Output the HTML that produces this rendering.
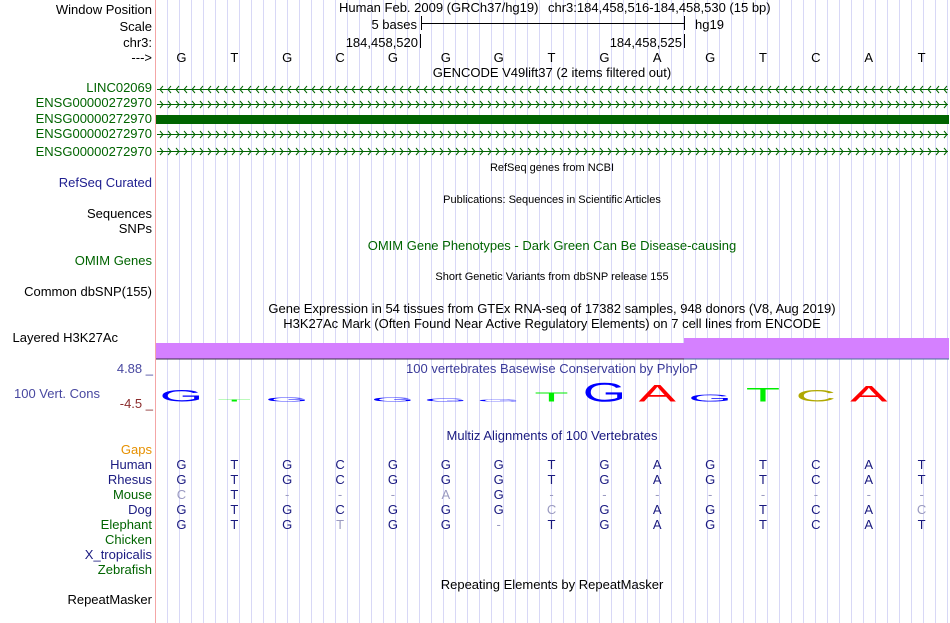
<!DOCTYPE html>
<html><head><meta charset="utf-8"><style>
html,body{margin:0;padding:0;background:#fff;}
svg{display:block;font-family:"Liberation Sans",sans-serif;}
</style></head><body>
<svg width="950" height="623" viewBox="0 0 950 623" xmlns="http://www.w3.org/2000/svg">
<g id="grid" stroke="#d8d8f6" stroke-width="1"></g>
<line x1="155.5" y1="0" x2="155.5" y2="623" stroke="#f4a6a6" stroke-width="1"/>
<g font-size="13" text-anchor="end" fill="#000">
<text x="152" y="14">Window Position</text>
<text x="152" y="31">Scale</text>
<text x="152" y="47">chr3:</text>
<text x="152" y="62">---&gt;</text>
<g fill="#006400">
<text x="152" y="92">LINC02069</text>
<text x="152" y="107">ENSG00000272970</text>
<text x="152" y="123">ENSG00000272970</text>
<text x="152" y="138">ENSG00000272970</text>
<text x="152" y="156">ENSG00000272970</text>
</g>
<text x="152" y="187" fill="#202090">RefSeq Curated</text>
<text x="152" y="218">Sequences</text>
<text x="152" y="233">SNPs</text>
<text x="152" y="265" fill="#006400">OMIM Genes</text>
<text x="152" y="296">Common dbSNP(155)</text>
<text x="118" y="342">Layered H3K27Ac</text>
<text x="153" y="373" fill="#4848a0">4.88 _</text>
<text x="100" y="398" fill="#4848a0">100 Vert. Cons</text>
<text x="153" y="408" fill="#8b2d2d">-4.5 _</text>
<text x="152" y="454" fill="#e69000">Gaps</text>
<text x="152" y="469" fill="#1a1a80">Human</text>
<text x="152" y="484" fill="#1a1a80">Rhesus</text>
<text x="152" y="499" fill="#006400">Mouse</text>
<text x="152" y="514" fill="#1a1a80">Dog</text>
<text x="152" y="529" fill="#006400">Elephant</text>
<text x="152" y="544" fill="#006400">Chicken</text>
<text x="152" y="559" fill="#1a1a80">X_tropicalis</text>
<text x="152" y="574" fill="#006400">Zebrafish</text>
<text x="152" y="604">RepeatMasker</text>
</g>
<g font-size="13" fill="#000">
<text x="339" y="12">Human Feb. 2009 (GRCh37/hg19)</text>
<text x="548" y="12">chr3:184,458,516-184,458,530 (15 bp)</text>
<text x="417" y="29" text-anchor="end">5 bases</text>
<text x="695" y="29">hg19</text>
<text x="418" y="47" text-anchor="end">184,458,520</text>
<text x="682" y="47" text-anchor="end">184,458,525</text>
</g>
<g stroke="#000" stroke-width="1">
<line x1="421.5" y1="16" x2="421.5" y2="30"/><line x1="684.5" y1="16" x2="684.5" y2="30"/>
<line x1="421" y1="23.5" x2="684" y2="23.5"/>
<line x1="420.5" y1="34" x2="420.5" y2="48"/><line x1="684.5" y1="34" x2="684.5" y2="48"/>
</g>
<g id="seq" font-size="13" text-anchor="middle"></g>
<text x="552" y="77" font-size="13" text-anchor="middle">GENCODE V49lift37 (2 items filtered out)</text>
<g id="genes" stroke="#006400" fill="none" stroke-width="1"></g>
<rect x="156" y="115" width="793" height="9" fill="#006400"/>
<g font-size="11" text-anchor="middle" fill="#000">
<text x="552" y="171">RefSeq genes from NCBI</text>
<text x="552" y="203">Publications: Sequences in Scientific Articles</text>
<text x="552" y="280">Short Genetic Variants from dbSNP release 155</text>
</g>
<g font-size="13" text-anchor="middle">
<text x="552" y="250" fill="#006400">OMIM Gene Phenotypes - Dark Green Can Be Disease-causing</text>
<text x="552" y="313">Gene Expression in 54 tissues from GTEx RNA-seq of 17382 samples, 948 donors (V8, Aug 2019)</text>
<text x="552" y="328">H3K27Ac Mark (Often Found Near Active Regulatory Elements) on 7 cell lines from ENCODE</text>
<text x="552" y="373" fill="#3a3a98">100 vertebrates Basewise Conservation by PhyloP</text>
<text x="552" y="440" fill="#1a1a80">Multiz Alignments of 100 Vertebrates</text>
<text x="552" y="589">Repeating Elements by RepeatMasker</text>
</g>
<rect x="156" y="343" width="529" height="16" fill="#d580ff"/>
<rect x="684" y="338" width="265" height="21" fill="#d580ff"/>
<line x1="156" y1="359" x2="685" y2="359" stroke="#3a2a4a"/>
<line x1="684" y1="359" x2="949" y2="359" stroke="#4a6a9a"/>
<g id="logo" font-size="20" text-anchor="middle"></g>
<g id="maf" font-size="13" text-anchor="middle"></g>
</svg>
<script>
var ns="http://www.w3.org/2000/svg";
function el(p,t,a,txt){var e=document.createElementNS(ns,t);for(var k in a)e.setAttribute(k,a[k]);if(txt!=null)e.textContent=txt;document.getElementById(p).appendChild(e);return e;}
for(var x=167.5;x<950;x+=12)el("grid","line",{x1:x,y1:0,x2:x,y2:623});
var W=52.87,seq="GTGCGGGTGAGTCAT";
function cx(i){return 155+W*i+W/2;}
for(var i=0;i<15;i++)el("seq","text",{x:cx(i),y:62},seq[i]);
[[89,-1],[104,1],[134,1],[151,1]].forEach(function(r){
 el("genes","line",{x1:157,y1:r[0]+0.5,x2:948,y2:r[0]+0.5});
 var d="";for(var x=160;x<946;x+=8){if(r[1]>0)d+="M"+(x)+" "+(r[0]-3)+"l3 3.5l-3 3.5";else d+="M"+(x+3)+" "+(r[0]-3)+"l-3 3.5l3 3.5";}
 el("genes","path",{d:d});
});
var col={G:"#0000ff",T:"#00ee00",A:"#ff0000",C:"#b0a800"};
var hs=[12,2,4,0,4,3,2,9,19,17,7,14,12,16,0];
var lg="GTGCGGGTGAGTCAT";
for(var i=0;i<15;i++){if(!hs[i])continue;var L=lg[i];
 el("logo","text",{transform:"translate("+cx(i)+",401.5) scale(2.8,"+(hs[i]/14.3)+")",fill:col[L]},L);}
var rows={469:"GTGCGGGTGAGTCAT",484:"GTGCGGGTGAGTCAT",499:"cT---aG--------",514:"GTGCGGGcGAGTCAc",529:"GTGtGG-TGAGTCAT"};
for(var y in rows){var s=rows[y];for(var i=0;i<15;i++){var c=s[i];var g=(c!=c.toUpperCase())||c=="-";
 el("maf","text",{x:cx(i),y:y,fill:g?"#9a9ac0":"#1a1a80"},c.toUpperCase());}}
</script>
</body></html>
